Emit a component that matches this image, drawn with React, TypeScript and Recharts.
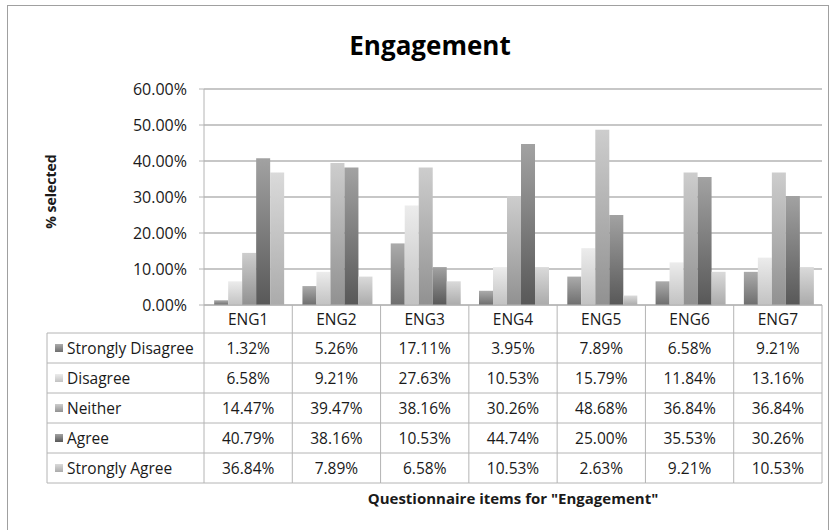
// Engagement – Excel-style clustered bar chart with data table underneath
import React from "react";
import { BarChart, Bar, XAxis, YAxis, CartesianGrid } from "recharts";

const categories = ["ENG1", "ENG2", "ENG3", "ENG4", "ENG5", "ENG6", "ENG7"];
const stronglyDisagree = [1.32, 5.26, 17.11, 3.95, 7.89, 6.58, 9.21];
const disagree = [6.58, 9.21, 27.63, 10.53, 15.79, 11.84, 13.16];
const neither = [14.47, 39.47, 38.16, 30.26, 48.68, 36.84, 36.84];
const agree = [40.79, 38.16, 10.53, 44.74, 25.0, 35.53, 30.26];
const stronglyAgree = [36.84, 7.89, 6.58, 10.53, 2.63, 9.21, 10.53];
const yTicks = [0, 10, 20, 30, 40, 50, 60];

const FONT = "'Open Sans', 'Liberation Sans', sans-serif";
const GRID = "#b4b4b4";
const TEXT = "#1a1a1a";

// series: name, values, gradient top/bottom
const SERIES = [
    { key: "sd", name: "Strongly Disagree", values: stronglyDisagree, top: "#ababab", bottom: "#6e6e6e" },
    { key: "d", name: "Disagree", values: disagree, top: "#ececec", bottom: "#c2c2c2" },
    { key: "n", name: "Neither", values: neither, top: "#cdcdcd", bottom: "#919191" },
    { key: "a", name: "Agree", values: agree, top: "#a2a2a2", bottom: "#585858" },
    { key: "sa", name: "Strongly Agree", values: stronglyAgree, top: "#dadada", bottom: "#ababab" },
];

const data = categories.map((name, i) => {
    const row: any = { name };
    SERIES.forEach((s) => (row[s.key] = s.values[i]));
    return row;
});

const HEADER_H = 28;
const ROW_H = 30;
const TABLE_LEFT = 47;
const fmt = (v: number) => `${v.toFixed(2)}%`;

// draws one table column (header + values) under each category; the first one also draws row labels
const TableTick = (props: any) => {
    const { x, y, payload, index, width } = props;
    const i = typeof index === "number" ? index : categories.indexOf(payload.value);
    const band = (width || 618) / categories.length;
    const left = x - band / 2;
    const right = x + band / 2;
    const bottom = y + HEADER_H + ROW_H * SERIES.length;

    return (
        <g fontFamily={FONT} fontSize={15.5} fill={TEXT}>
            <text x={x} y={y + HEADER_H / 2} textAnchor="middle" dominantBaseline="central">
                {categories[i]}
            </text>
            <line x1={right} x2={right} y1={y} y2={bottom} stroke={GRID} />
            {i === 0 && <line x1={left} x2={left} y1={y} y2={bottom} stroke={GRID} />}
            {SERIES.map((s, r) => {
                const ry = y + HEADER_H + ROW_H * r;
                return (
                    <g key={s.key}>
                        <line x1={left} x2={right} y1={ry} y2={ry} stroke={GRID} />
                        <text x={x} y={ry + ROW_H / 2} textAnchor="middle" dominantBaseline="central">
                            {fmt(s.values[i])}
                        </text>
                    </g>
                );
            })}
            <line x1={left} x2={right} y1={bottom} y2={bottom} stroke={GRID} />
            {i === 0 && (
                <g>
                    <line x1={TABLE_LEFT} x2={TABLE_LEFT} y1={y + HEADER_H} y2={bottom} stroke={GRID} />
                    {SERIES.map((s, r) => {
                        const ry = y + HEADER_H + ROW_H * r;
                        return (
                            <g key={s.key}>
                                <line x1={TABLE_LEFT} x2={left} y1={ry} y2={ry} stroke={GRID} />
                                <rect x={TABLE_LEFT + 8} y={ry + ROW_H / 2 - 4} width={8} height={8} fill={`url(#grad-${s.key})`} />
                                <text x={TABLE_LEFT + 20} y={ry + ROW_H / 2} dominantBaseline="central">
                                    {s.name}
                                </text>
                            </g>
                        );
                    })}
                    <line x1={TABLE_LEFT} x2={left} y1={bottom} y2={bottom} stroke={GRID} />
                </g>
            )}
        </g>
    );
};

export default function App() {
    return (
        <div style={{ position: "absolute", left: 0, top: 0, width: 835, height: 530, overflow: "hidden", background: "#fff" }}>
            <div style={{ position: "absolute", left: 7, top: 5, width: 820, height: 560, border: "1px solid #a0a0a0" }} />
            <div
                style={{
                    position: "absolute", left: 0, top: 27, width: 860, textAlign: "center",
                    fontFamily: FONT, fontWeight: 700, fontSize: 26, color: "#000",
                }}
            >
                Engagement
            </div>
            <div style={{ position: "absolute", left: 30, top: 192, width: 0, height: 0 }}>
                <div
                    style={{
                        position: "absolute", left: -60, top: -10, width: 120, textAlign: "center",
                        transform: "translateX(20px) rotate(-90deg)", fontFamily: FONT, fontWeight: 700, fontSize: 14, color: TEXT,
                    }}
                >
                    % selected
                </div>
            </div>
            <div
                style={{
                    position: "absolute", left: 204, top: 488, width: 618, textAlign: "center",
                    fontFamily: FONT, fontWeight: 700, fontSize: 15, color: TEXT,
                }}
            >
                Questionnaire items for "Engagement"
            </div>
            <div style={{ position: "absolute", left: 0, top: 0 }}>
                <BarChart
                    width={835}
                    height={530}
                    data={data}
                    margin={{ top: 89, right: 13, left: 40, bottom: 0 }}
                    barCategoryGap="11.5%"
                    barGap={0}
                >
                    <defs>
                        {SERIES.map((s) => (
                            <linearGradient key={s.key} id={`grad-${s.key}`} x1="0" y1="0" x2="0" y2="1">
                                <stop offset="0%" stopColor={s.top} />
                                <stop offset="100%" stopColor={s.bottom} />
                            </linearGradient>
                        ))}
                    </defs>
                    <CartesianGrid vertical={false} stroke={GRID} strokeWidth={1.5} />
                    <XAxis
                        dataKey="name"
                        height={225}
                        interval={0}
                        tickSize={0}
                        tickMargin={0}
                        tickLine={false}
                        axisLine={{ stroke: GRID }}
                        tick={<TableTick />}
                    />
                    <YAxis
                        width={164}
                        domain={[0, 60]}
                        ticks={yTicks}
                        tickFormatter={fmt}
                        tickSize={5}
                        tickMargin={12}
                        axisLine={{ stroke: GRID }}
                        tickLine={{ stroke: GRID }}
                        tick={{ fontFamily: FONT, fontSize: 16, fill: TEXT }}
                    />
                    {SERIES.map((s) => (
                        <Bar key={s.key} dataKey={s.key} name={s.name} fill={`url(#grad-${s.key})`} isAnimationActive={false} />
                    ))}
                </BarChart>
            </div>
        </div>
    );
}
